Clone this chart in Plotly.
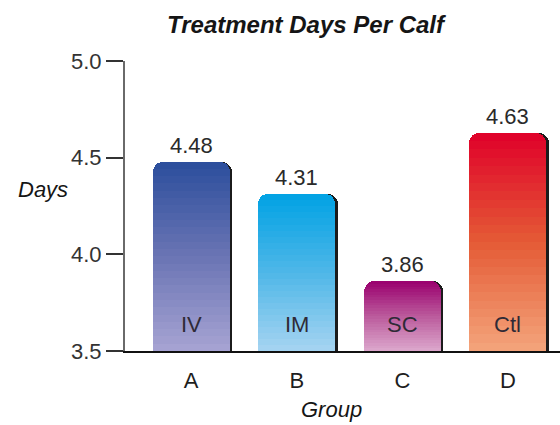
import plotly.graph_objects as go

# Treatment days per calf, by group
groups = ["A", "B", "C", "D"]
treatments = ["IV", "IM", "SC", "Ctl"]
days = [4.48, 4.31, 3.86, 4.63]

y_ticks = [3.5, 4.0, 4.5, 5.0]
y_floor, y_ceil = 3.5, 5.0

# vertical gradient stops per bar (bottom -> top)
bar_stops = [
    ["#a7a4d3", "#6a74b4", "#2b4e9c"],
    ["#a6d4f1", "#4fb7e8", "#00a2e4"],
    ["#dca8cd", "#bb5a9c", "#9a006e"],
    ["#f4a57c", "#e45a35", "#e0002a"],
]

FONT = "Liberation Sans, Arial, sans-serif"
N_BANDS = 26
BAR_W = 0.73
RADIUS = 10


def hex_rgb(h):
    h = h.lstrip("#")
    return tuple(int(h[i:i + 2], 16) for i in (0, 2, 4))


def blend(stops, t):
    seg = min(int(t * (len(stops) - 1)), len(stops) - 2)
    lt = t * (len(stops) - 1) - seg
    a, b = hex_rgb(stops[seg]), hex_rgb(stops[seg + 1])
    c = [round(a[i] + (b[i] - a[i]) * lt) for i in range(3)]
    return "rgb({},{},{})".format(*c)


xs = list(range(len(groups)))
fig = go.Figure()

# dark drop shadow on the right side of each bar (drawn underneath)
fig.add_trace(go.Bar(
    x=xs, y=days, width=BAR_W, offset=-BAR_W / 2 + 0.022,
    marker=dict(color="#1b1b1b", line=dict(width=0), cornerradius=RADIUS),
    xaxis="x", yaxis="y", hoverinfo="skip", showlegend=False,
))

# gradient bars: a hidden floor up to the axis minimum, then stacked colour bands
fig.add_trace(go.Bar(
    x=xs, y=[y_floor] * len(xs), width=BAR_W,
    marker=dict(color=[s[0] for s in bar_stops], line=dict(width=0)),
    xaxis="x2", yaxis="y2", hoverinfo="skip", showlegend=False,
))
for k in range(N_BANDS):
    t = (k + 0.5) / N_BANDS
    fig.add_trace(go.Bar(
        x=xs,
        y=[(v - y_floor) / N_BANDS for v in days],
        width=BAR_W,
        marker=dict(color=[blend(s, t) for s in bar_stops], line=dict(width=0)),
        xaxis="x2", yaxis="y2", hoverinfo="skip", showlegend=False,
    ))

annotations = []
for i, (v, lab) in enumerate(zip(days, treatments)):
    annotations.append(dict(
        x=i, y=v, xref="x2", yref="y2", text=f"{v:.2f}", showarrow=False,
        yanchor="bottom", yshift=2, font=dict(family=FONT, size=22, color="#2a2a2a"),
    ))
    annotations.append(dict(
        x=i, y=y_floor, xref="x2", yref="y2", text=lab, showarrow=False,
        yanchor="bottom", yshift=12, font=dict(family=FONT, size=22, color="#2f2a36"),
    ))

W, H = 560, 425
M_L, M_R, M_T, M_B = 125, 0, 61, 74


def paper_xy(px, py):
    # pixel position on the page -> paper coordinates of the plot area
    return (px - M_L) / (W - M_L - M_R), 1 - (py - M_T) / (H - M_T - M_B)


for text, (px, py), size in [
    ("<b><i>Treatment Days Per Calf</i></b>", (306, 24), 24),
    ("<i>Days</i>", (43, 189), 22),
    ("<i>Group</i>", (331, 409), 22),
]:
    ax, ay = paper_xy(px, py)
    annotations.append(dict(
        x=ax, y=ay, xref="paper", yref="paper", text=text, showarrow=False,
        xanchor="center", yanchor="middle",
        font=dict(family=FONT, size=size, color="#151515"),
    ))

x_range = [-0.626, 3.493]
y_range = [y_floor, y_ceil]

fig.update_layout(
    width=W, height=H,
    margin=dict(l=M_L, r=M_R, t=M_T, b=M_B),
    paper_bgcolor="white", plot_bgcolor="white",
    barmode="stack", bargap=0,
    showlegend=False,
    annotations=annotations,
    xaxis=dict(
        range=x_range, tickvals=xs, ticktext=groups, showgrid=False, zeroline=False,
        showline=True, linecolor="#111111", linewidth=1.5, ticks="",
        ticklabelstandoff=9,
        tickfont=dict(family=FONT, size=22, color="#1e1e1e"),
    ),
    yaxis=dict(
        range=y_range, tickvals=y_ticks, tickformat=".1f", showgrid=False, zeroline=False,
        showline=True, linecolor="#6a6a6a", linewidth=2,
        ticks="outside", ticklen=17, tickwidth=2, tickcolor="#333333",
        tickfont=dict(family=FONT, size=22, color="#333333"),
    ),
    xaxis2=dict(range=x_range, overlaying="x", visible=False),
    yaxis2=dict(range=y_range, overlaying="y", visible=False),
    barcornerradius=RADIUS,
)

fig.write_html("out.html")
